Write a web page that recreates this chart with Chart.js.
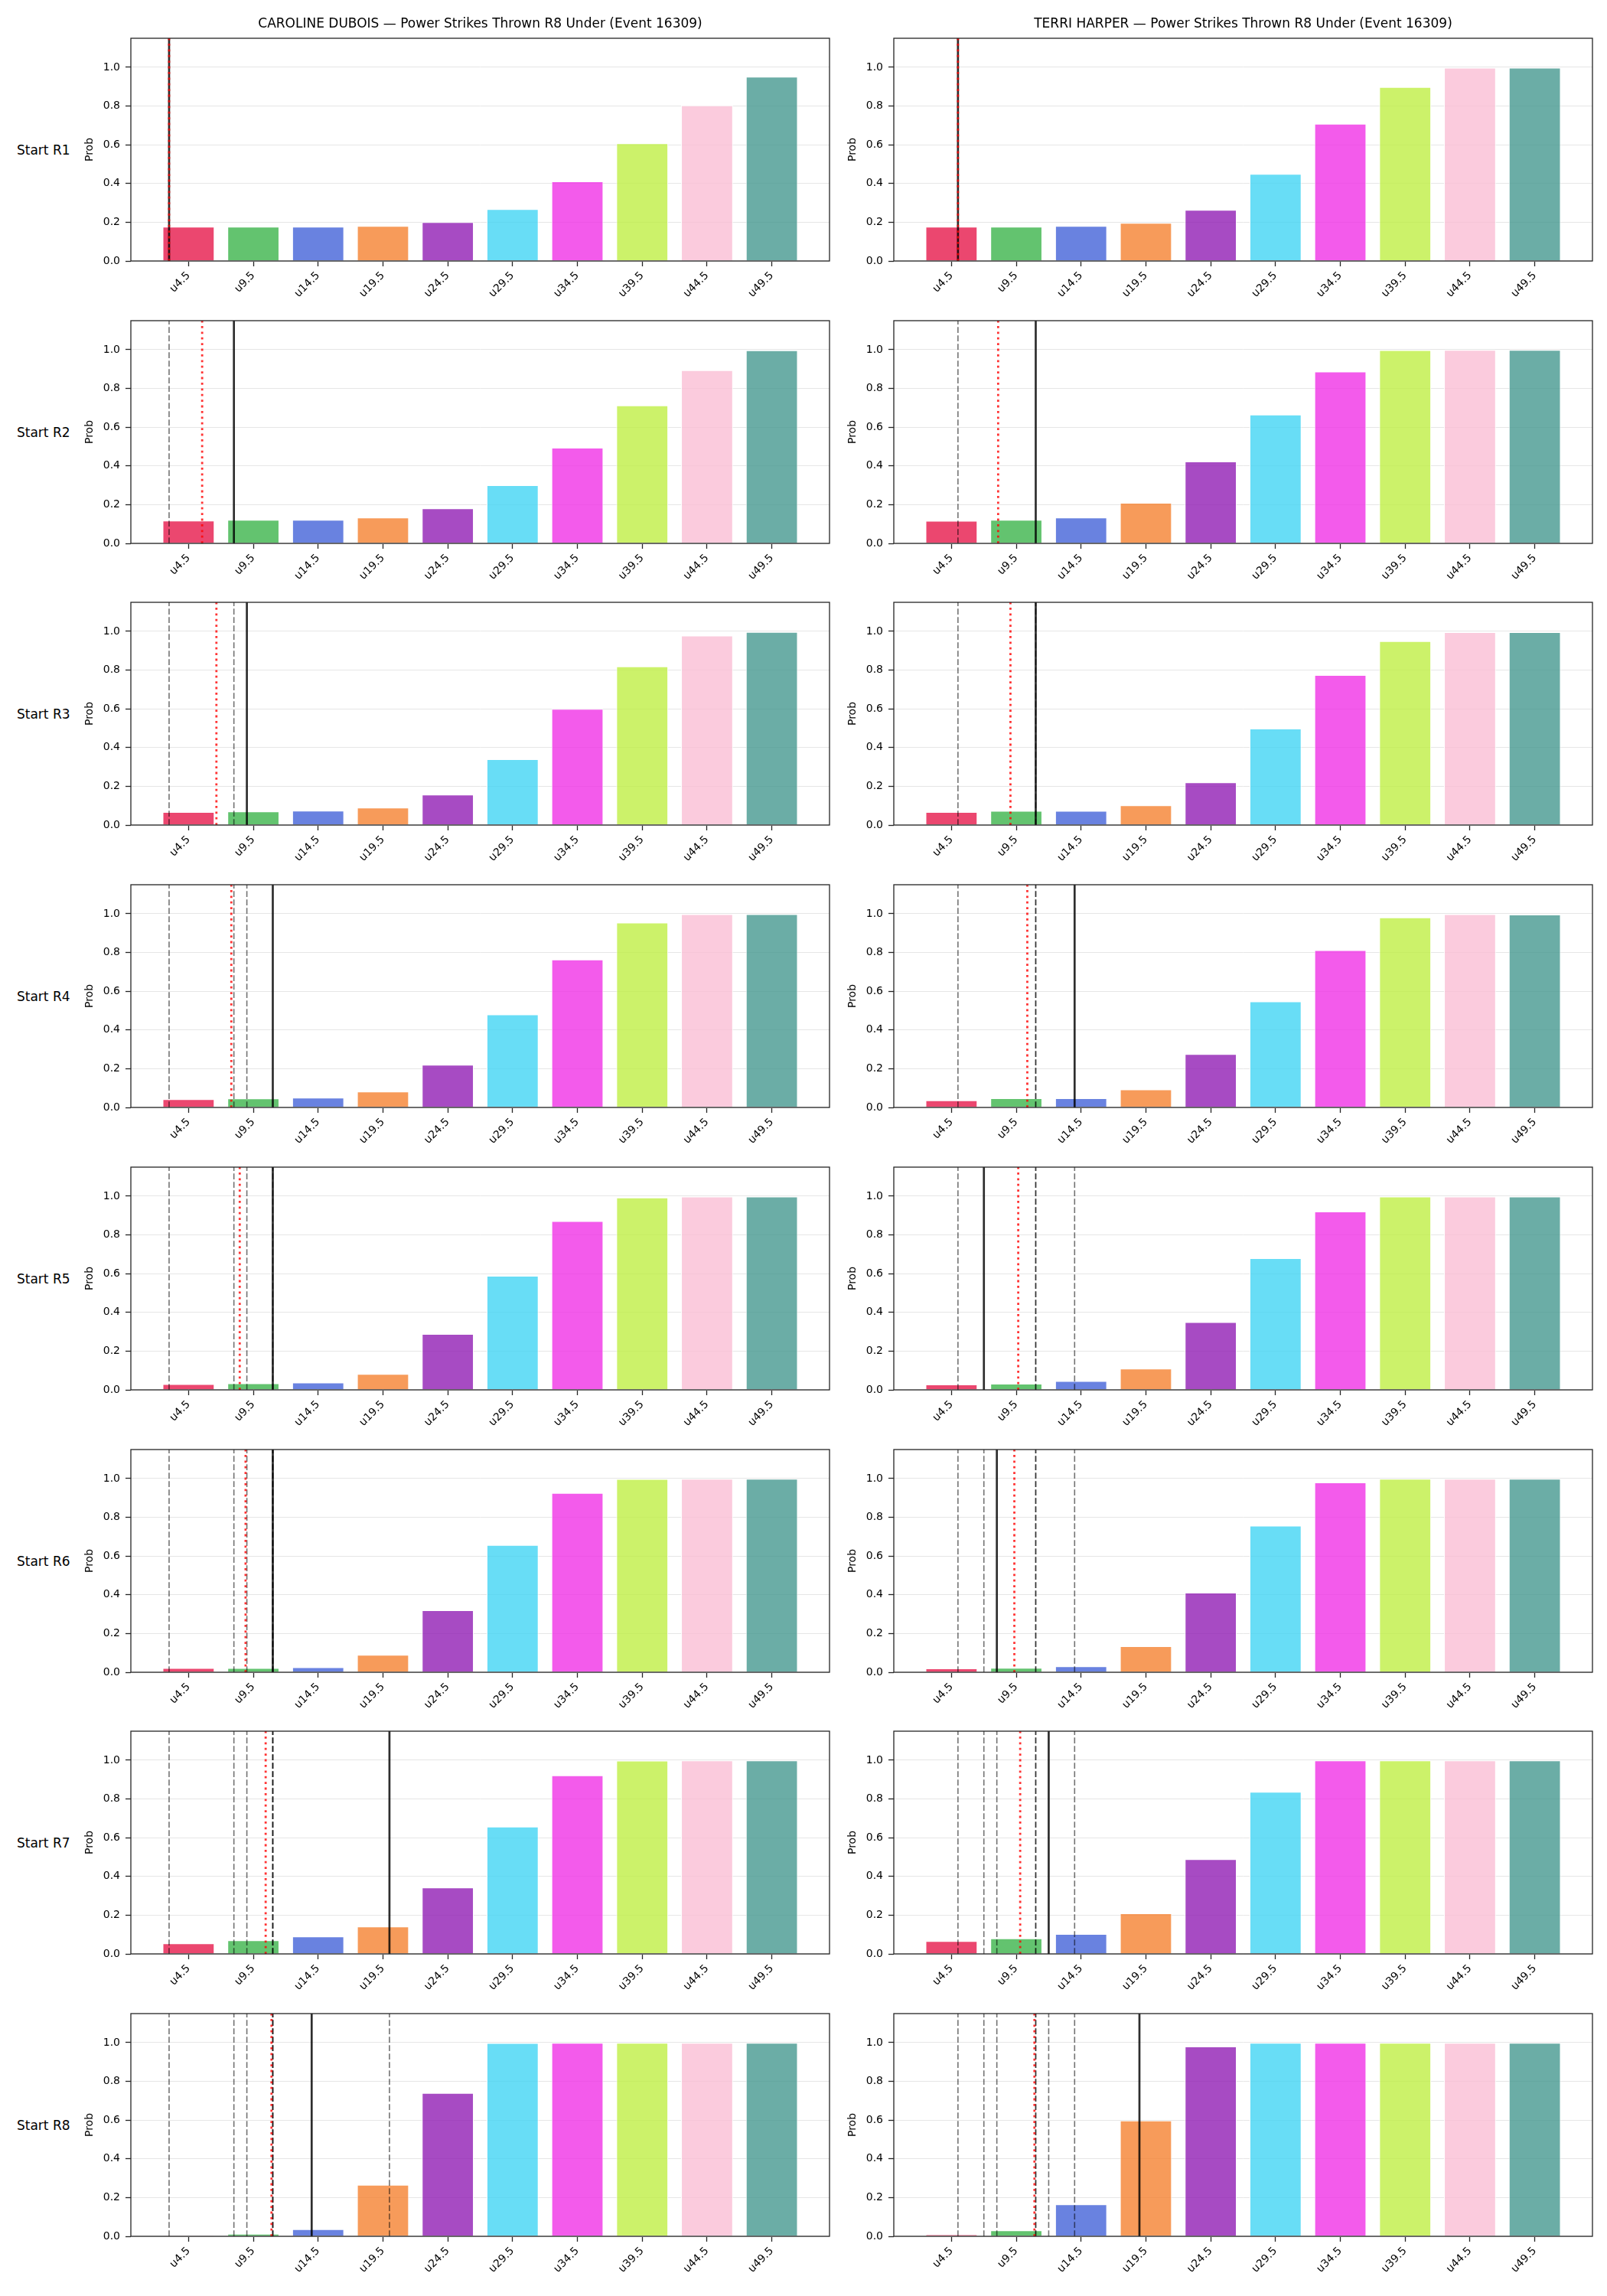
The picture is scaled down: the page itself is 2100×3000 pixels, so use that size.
<!DOCTYPE html>
<html>
<head>
<meta charset="utf-8">
<title>Power Strikes Thrown R8 Under (Event 16309)</title>
<script src="https://cdn.jsdelivr.net/npm/chart.js@4.4.1/dist/chart.umd.min.js"></script>
<style>
  html, body { margin: 0; padding: 0; background: #fff; }
  #page { position: relative; width: 2100px; height: 3000px; overflow: hidden; background: #fff; font-family: 'DejaVu Sans', sans-serif; }
  #page canvas { position: absolute; }
  .row-label { position: absolute; left: 22px; font-size: 17px; line-height: 20px; color: #000; white-space: nowrap; }
</style>
</head>
<body>
<div id="page"></div>
<script>
// thresholds on the x axis (strike counts) and their tick labels
const thresholds = [4.5, 9.5, 14.5, 19.5, 24.5, 29.5, 34.5, 39.5, 44.5, 49.5];
const tickLabels = ['u4.5', 'u9.5', 'u14.5', 'u19.5', 'u24.5', 'u29.5', 'u34.5', 'u39.5', 'u44.5', 'u49.5'];
const roundLabels = ['Start R1', 'Start R2', 'Start R3', 'Start R4', 'Start R5', 'Start R6', 'Start R7', 'Start R8'];
const fighters = ['CAROLINE DUBOIS', 'TERRI HARPER'];
const yTicks = [0, 0.2, 0.4, 0.6, 0.8, 1.0];

// P(under) per threshold, one row per round start
const duboisProbs = [
    [0.177, 0.177, 0.177, 0.181, 0.201, 0.268, 0.411, 0.608, 0.803, 0.951],
    [0.118, 0.122, 0.122, 0.133, 0.181, 0.300, 0.494, 0.712, 0.894, 0.997],
    [0.067, 0.070, 0.074, 0.090, 0.157, 0.340, 0.600, 0.819, 0.978, 0.997],
    [0.042, 0.046, 0.050, 0.082, 0.220, 0.480, 0.764, 0.954, 0.998, 0.998],
    [0.030, 0.034, 0.038, 0.082, 0.288, 0.589, 0.871, 0.993, 0.998, 0.998],
    [0.022, 0.022, 0.026, 0.090, 0.320, 0.657, 0.926, 0.998, 0.999, 0.999],
    [0.054, 0.070, 0.090, 0.141, 0.343, 0.657, 0.922, 0.998, 0.999, 0.999],
    [0.003, 0.013, 0.037, 0.266, 0.740, 0.998, 0.999, 0.999, 0.999, 0.999]
];
const harperProbs = [
    [0.177, 0.177, 0.181, 0.197, 0.264, 0.450, 0.708, 0.898, 0.998, 0.998],
    [0.117, 0.122, 0.133, 0.209, 0.423, 0.665, 0.887, 0.998, 0.999, 0.999],
    [0.067, 0.073, 0.073, 0.102, 0.220, 0.498, 0.775, 0.949, 0.996, 0.996],
    [0.037, 0.047, 0.047, 0.093, 0.276, 0.547, 0.812, 0.981, 0.998, 0.996],
    [0.028, 0.032, 0.045, 0.110, 0.350, 0.680, 0.921, 0.998, 0.998, 0.998],
    [0.020, 0.023, 0.031, 0.134, 0.411, 0.757, 0.980, 0.999, 0.999, 0.999],
    [0.066, 0.080, 0.103, 0.209, 0.489, 0.837, 0.999, 0.999, 0.999, 0.999],
    [0.009, 0.031, 0.165, 0.598, 0.980, 0.999, 0.999, 0.999, 0.999, 0.999]
];

// strikes landed so far (solid) and projection (dotted), per round start
const duboisCurrent = [3, 8, 9, 11, 11, 11, 20, 14];
const duboisProjected = [3, 5.55, 6.65, 7.8, 8.45, 8.9, 10.45, 10.9];
const harperCurrent = [5, 11, 11, 14, 7, 8, 12, 19];
const harperProjected = [5, 8.1, 9.05, 10.35, 9.65, 9.35, 9.8, 10.9];

const barColors = [
    'rgba(230,25,75,0.8)', 'rgba(60,180,75,0.8)', 'rgba(67,99,216,0.8)', 'rgba(245,130,49,0.8)',
    'rgba(145,30,180,0.8)', 'rgba(66,212,244,0.8)', 'rgba(240,50,230,0.8)', 'rgba(191,239,69,0.8)',
    'rgba(250,190,212,0.8)', 'rgba(70,153,144,0.8)'
];

const xMin = 0.05, xMax = 53.95, yMax = 1.15;

// layout of the grid of axes (px)
const colLeft = [171, 1168];
const axW = 913, axH = 291;
const yAxisW = 71, padRight = 12, padTop = 50, xAxisH = 60;
const rowTop = r => Math.round(50 + r * 368.7);

Chart.defaults.font.family = "'DejaVu Sans', sans-serif";
Chart.defaults.color = '#000';

// matplotlib-like box around each axes
const frame = {
    id: 'frame',
    afterDraw(chart) {
        const a = chart.chartArea, ctx = chart.ctx;
        ctx.save();
        ctx.strokeStyle = '#262626';
        ctx.lineWidth = 1.3;
        ctx.strokeRect(a.left, a.top, a.right - a.left, a.bottom - a.top);
        ctx.restore();
    }
};

const dashedStyle = { borderColor: 'rgba(0,0,0,0.55)', borderWidth: 1.6, borderDash: [7.7, 3.3], order: 3 };
const solidStyle = { borderColor: 'rgba(0,0,0,0.82)', borderWidth: 2.7, order: 2 };
const dottedStyle = { borderColor: 'rgba(255,0,0,0.8)', borderWidth: 2.8, borderDash: [2.8, 4.6], order: 1 };

function vline(value, style) {
    return Object.assign({
        type: 'line',
        data: [{ x: value, y: 0 }, { x: value, y: yMax }],
        pointRadius: 0,
        fill: false,
        tension: 0
    }, style);
}

const page = document.getElementById('page');
const probs = [duboisProbs, harperProbs];
const current = [duboisCurrent, harperCurrent];
const projected = [duboisProjected, harperProjected];

for (let r = 0; r < roundLabels.length; r++) {
    const lab = document.createElement('div');
    lab.className = 'row-label';
    lab.textContent = roundLabels[r];
    lab.style.top = (rowTop(r) + axH / 2 - 10) + 'px';
    page.appendChild(lab);

    for (let c = 0; c < 2; c++) {
        const cv = document.createElement('canvas');
        cv.width = yAxisW + axW + padRight;
        cv.height = padTop + axH + xAxisH;
        cv.style.left = (colLeft[c] - yAxisW) + 'px';
        cv.style.top = (rowTop(r) - padTop) + 'px';
        page.appendChild(cv);

        const datasets = [{
            type: 'bar',
            data: thresholds.map((t, i) => ({ x: t, y: probs[c][r][i] })),
            backgroundColor: barColors,
            borderColor: '#ffffff',
            borderWidth: 1,
            barPercentage: 0.8,
            categoryPercentage: 1,
            order: 10
        }];
        // earlier rounds' positions as faint dashed lines
        current[c].slice(0, r).forEach(v => datasets.push(vline(v, dashedStyle)));
        datasets.push(vline(current[c][r], solidStyle));
        datasets.push(vline(projected[c][r], dottedStyle));

        new Chart(cv.getContext('2d'), {
            type: 'bar',
            data: { datasets: datasets },
            options: {
                responsive: false,
                animation: false,
                devicePixelRatio: 1,
                events: [],
                layout: { padding: { top: r === 0 ? 0 : padTop, right: padRight, left: 0, bottom: 0 } },
                plugins: {
                    legend: { display: false },
                    tooltip: { enabled: false },
                    title: {
                        display: r === 0,
                        text: fighters[c] + ' \u2014 Power Strikes Thrown R8 Under (Event 16309)',
                        fullSize: false,
                        color: '#000',
                        font: { size: 17, weight: 'normal' },
                        padding: { top: 21.6, bottom: 8 }
                    }
                },
                scales: {
                    x: {
                        type: 'linear',
                        min: xMin,
                        max: xMax,
                        bounds: 'data',
                        offset: false,
                        afterBuildTicks: s => { s.ticks = thresholds.map(v => ({ value: v })); },
                        afterFit: s => { s.height = xAxisH; s.paddingLeft = 0; s.paddingRight = 0; },
                        grid: { display: true, drawOnChartArea: false, drawTicks: true, offset: false,
                                tickLength: 7, tickColor: '#262626', tickWidth: 1.3 },
                        border: { display: false },
                        ticks: { autoSkip: false, minRotation: 45, maxRotation: 45, padding: 4,
                                 color: '#000', font: { size: 14 },
                                 callback: (v, i) => tickLabels[i] }
                    },
                    y: {
                        min: 0,
                        max: yMax,
                        bounds: 'data',
                        afterBuildTicks: s => { s.ticks = yTicks.map(v => ({ value: v })); },
                        afterFit: s => { s.width = yAxisW; s.paddingTop = 0; s.paddingBottom = 0; },
                        grid: { color: '#e6e6e6', lineWidth: 1, tickLength: 7, tickColor: '#262626', tickWidth: 1.3 },
                        border: { display: false },
                        ticks: { padding: 7, color: '#000', font: { size: 14 }, callback: v => v.toFixed(1) },
                        title: { display: true, text: 'Prob', color: '#000', font: { size: 14 }, padding: { top: 9, bottom: 0 } }
                    }
                }
            },
            plugins: [frame]
        });
    }
}
</script>
</body>
</html>
